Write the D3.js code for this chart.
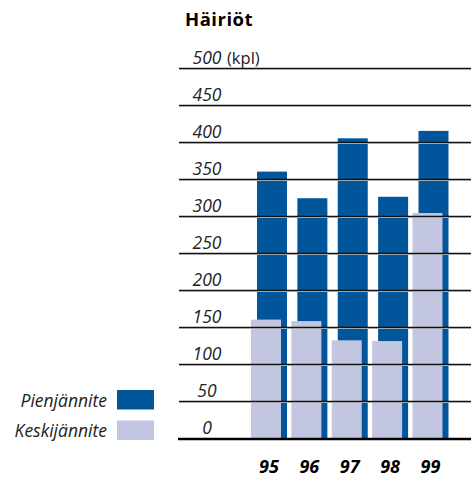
<!DOCTYPE html>
<html>
<head>
<meta charset="utf-8">
<script src="https://cdn.jsdelivr.net/npm/d3@7"></script>
<style>
  body { margin: 0; background: #fff; }
  svg { display: block; font-family: 'Open Sans', sans-serif; }
  .grade line { stroke: #111; stroke-width: 1.5; }
  .grade .domain { display: none; }
</style>
</head>
<body>
<svg id="grafico"></svg>
<script>
// Dados
var vuodet = ['95', '96', '97', '98', '99'];
var pienjannite = [360, 324, 405, 326, 415];
var keskijannite = [160, 158, 132, 131, 304];
var yTicks = [0, 50, 100, 150, 200, 250, 300, 350, 400, 450, 500];
var sarjat = ['Pienjännite', 'Keskijännite'];

var largura = 471, altura = 477;
var corEscura = '#01559a', corClara = '#c3c6e0';

var svg = d3.select('#grafico')
            .attr('width', largura)
            .attr('height', altura);

//Escalas
var y = d3.scaleLinear()
          .domain([0, 500])
          .range([438, 68]);
var x = d3.scaleBand()
          .domain(vuodet)
          .range([251, 448.5])
          .paddingInner(0.108)
          .paddingOuter(0);
var cores = d3.scaleOrdinal()
              .domain(sarjat)
              .range([corEscura, corClara]);

var larguraBarra = 30, deslocamento = 6;

//Título
svg.append('text')
   .attr('x', 185)
   .attr('y', 26)
   .style('font-weight', 'bold')
   .style('font-size', '18.5px')
   .style('letter-spacing', '0.5px')
   .text('Häiriöt');

//Barras escuras (Pienjännite)
svg.selectAll('.barraEscura')
   .data(vuodet)
   .enter()
   .append('rect')
   .classed('barraEscura', true)
   .attr('x', d => x(d) + deslocamento)
   .attr('y', (d, i) => y(pienjannite[i]))
   .attr('width', larguraBarra)
   .attr('height', (d, i) => y(0) - y(pienjannite[i]))
   .attr('fill', cores('Pienjännite'));

//Barras claras (Keskijännite)
svg.selectAll('.barraClara')
   .data(vuodet)
   .enter()
   .append('rect')
   .classed('barraClara', true)
   .attr('x', d => x(d))
   .attr('y', (d, i) => y(keskijannite[i]))
   .attr('width', larguraBarra)
   .attr('height', (d, i) => y(0) - y(keskijannite[i]))
   .attr('fill', cores('Keskijännite'));

//Sombra clara sob as linhas de grade
svg.selectAll('.sombra')
   .data(yTicks.slice(1))
   .enter()
   .append('line')
   .classed('sombra', true)
   .attr('x1', 179).attr('x2', 471)
   .attr('y1', d => y(d) + 1.5).attr('y2', d => y(d) + 1.5)
   .attr('stroke', '#d8d8d8')
   .attr('stroke-width', 1);

//Linhas de grade
var grade = d3.axisRight(y)
              .tickValues(yTicks.slice(1))
              .tickSize(292)
              .tickFormat('');
svg.append('g')
   .classed('grade', true)
   .attr('transform', 'translate(179,0)')
   .call(grade);

//Linha de base
svg.append('line')
   .attr('x1', 178).attr('x2', 471)
   .attr('y1', y(0) + 1).attr('y2', y(0) + 1)
   .attr('stroke', '#000')
   .attr('stroke-width', 2.5);

//Rótulos do eixo Y
svg.selectAll('.rotuloY')
   .data(yTicks)
   .enter()
   .append('text')
   .classed('rotuloY', true)
   .attr('x', 207)
   .attr('y', d => y(d) - 4)
   .style('text-anchor', 'middle')
   .style('font-style', 'italic')
   .style('font-size', '17.5px')
   .attr('fill', '#222')
   .text(d => d);

svg.append('text')
   .attr('x', 227)
   .attr('y', y(500) - 4)
   .style('font-size', '16.5px')
   .attr('fill', '#222')
   .text('(kpl)');

//Rótulos do eixo X
svg.selectAll('.rotuloX')
   .data(vuodet)
   .enter()
   .append('text')
   .classed('rotuloX', true)
   .attr('x', d => x(d) + x.bandwidth() / 2)
   .attr('y', 473)
   .style('text-anchor', 'middle')
   .style('font-style', 'italic')
   .style('font-weight', 'bold')
   .style('font-size', '18px')
   .text(d => d);

//Legenda
var legenda = svg.selectAll('.legenda')
                 .data(sarjat)
                 .enter()
                 .append('g')
                 .classed('legenda', true)
                 .attr('transform', (d, i) => 'translate(0,' + (i * 30.5) + ')');
legenda.append('rect')
       .attr('x', 117)
       .attr('y', 390)
       .attr('width', 37)
       .attr('height', 19.5)
       .attr('fill', d => cores(d));
legenda.append('text')
       .attr('x', 107)
       .attr('y', 406.5)
       .style('text-anchor', 'end')
       .style('font-style', 'italic')
       .style('font-size', '17.5px')
       .attr('fill', '#222')
       .text(d => d);
</script>
</body>
</html>
